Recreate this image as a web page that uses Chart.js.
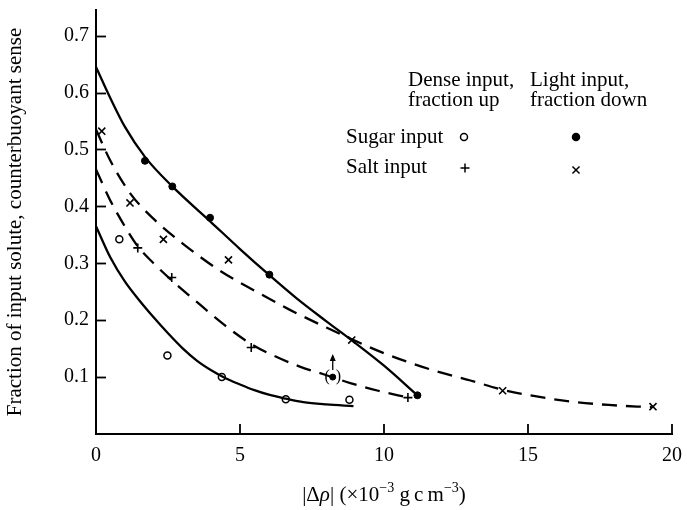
<!DOCTYPE html>
<html><head><meta charset="utf-8">
<script src="https://cdn.jsdelivr.net/npm/chart.js@4/dist/chart.umd.min.js"></script>
<style>html,body{margin:0;padding:0;background:#fff}#wrap{width:687px;height:510px}</style>
</head><body><div id="wrap"><canvas id="c" width="687" height="510"></canvas></div>
<script>
// Observed points
const lightSugarX = [1.70, 2.65, 3.96, 6.02, 11.16];
const lightSugarY = [0.480, 0.435, 0.380, 0.280, 0.068];
const lightSaltX = [0.20, 1.18, 2.34, 4.60, 8.88, 14.12, 19.34];
const lightSaltY = [0.532, 0.406, 0.342, 0.306, 0.165, 0.076, 0.048];
const denseSugarX = [0.81, 2.48, 4.37, 6.59, 8.80];
const denseSugarY = [0.342, 0.138, 0.100, 0.061, 0.060];
const denseSaltX = [1.45, 2.63, 5.39, 10.83];
const denseSaltY = [0.327, 0.275, 0.152, 0.064];
const boundX = [8.22];
const boundY = [0.100];
// Fitted curves
const fitLightSugarX = [0, 0.5, 1, 1.7, 2.65, 4, 5, 6, 7, 8, 9, 10, 11.16];
const fitLightSugarY = [0.645, 0.59, 0.54, 0.487, 0.435, 0.372, 0.325, 0.28, 0.237, 0.198, 0.16, 0.12, 0.068];
const fitLightSaltX = [0, 0.5, 1.2, 2, 3, 4.3, 5.5, 6.7, 8, 8.9, 10, 11.7, 13, 14.1, 15.3, 16.5, 17.8, 19.3];
const fitLightSaltY = [0.535, 0.48, 0.422, 0.378, 0.335, 0.287, 0.252, 0.219, 0.187, 0.166, 0.142, 0.112, 0.094, 0.078, 0.066, 0.057, 0.051, 0.047];
const fitDenseSaltX = [0, 0.5, 1, 1.45, 2, 2.63, 3.5, 4.5, 5.39, 6.2, 7.1, 7.9, 8.8, 9.8, 10.83];
const fitDenseSaltY = [0.465, 0.41, 0.365, 0.33, 0.3, 0.27, 0.232, 0.19, 0.158, 0.137, 0.118, 0.105, 0.09, 0.076, 0.064];
const fitDenseSugarX = [0, 0.5, 1, 1.5, 2, 2.5, 3, 3.5, 4, 4.5, 5, 5.5, 6, 6.6, 7.2, 8, 8.94];
const fitDenseSugarY = [0.365, 0.31, 0.268, 0.235, 0.205, 0.177, 0.151, 0.129, 0.112, 0.098, 0.087, 0.077, 0.069, 0.062, 0.056, 0.052, 0.049];
// Ticks
const xTicks = [0, 5, 10, 15, 20];
const yTicks = [0.1, 0.2, 0.3, 0.4, 0.5, 0.6, 0.7];
const xTickLabels = ['0', '5', '10', '15', '20'];
const yTickLabels = ['0.1', '0.2', '0.3', '0.4', '0.5', '0.6', '0.7'];
const yTitle = 'Fraction of input solute, counterbuoyant sense';
const colHeads = [['Dense input,', 'fraction up'], ['Light input,', 'fraction down']];
const rowHeads = ['Sugar input', 'Salt input'];

const SERIF = '"Liberation Serif", "Times New Roman", serif';
const pts = (xs, ys) => xs.map((x, i) => ({x, y: ys[i]}));

function fitDs(xs, ys, dashed) {
  return {data: pts(xs, ys), showLine: true, borderColor: '#000', borderWidth: 2.3,
    borderDash: dashed ? [15, 9] : [], pointRadius: 0, cubicInterpolationMode: 'monotone', fill: false, clip: false};
}
function ptDs(xs, ys, style, r, fillCol, bw) {
  return {data: pts(xs, ys), showLine: false, pointStyle: style, pointRadius: r,
    pointBackgroundColor: fillCol, pointBorderColor: '#000', pointBorderWidth: bw, clip: false};
}

const extras = {
  id: 'extras',
  afterDraw(chart) {
    const ctx = chart.ctx, xs = chart.scales.x, ys = chart.scales.y, a = chart.chartArea;
    ctx.save();
    ctx.strokeStyle = '#000'; ctx.fillStyle = '#000'; ctx.lineWidth = 1.8;
    yTicks.forEach(v => { const p = Math.round(ys.getPixelForValue(v)) + 0.5;
      ctx.beginPath(); ctx.moveTo(a.left, p); ctx.lineTo(a.left + 10, p); ctx.stroke(); });
    xTicks.slice(1).forEach(v => { const p = Math.round(xs.getPixelForValue(v));
      ctx.beginPath(); ctx.moveTo(p, a.bottom); ctx.lineTo(p, a.bottom - 10); ctx.stroke(); });
    // lower-bound marker: parentheses and arrow
    const bx = xs.getPixelForValue(boundX[0]), by = ys.getPixelForValue(boundY[0]);
    ctx.font = '16px ' + SERIF; ctx.textBaseline = 'middle';
    ctx.textAlign = 'right'; ctx.fillText('(', bx - 3, by);
    ctx.textAlign = 'left'; ctx.fillText(')', bx + 3, by);
    ctx.lineWidth = 1.3;
    ctx.beginPath(); ctx.moveTo(bx, by - 7); ctx.lineTo(bx, by - 21); ctx.stroke();
    ctx.beginPath(); ctx.moveTo(bx, by - 23); ctx.lineTo(bx - 3, by - 16); ctx.lineTo(bx + 3, by - 16); ctx.closePath(); ctx.fill();
    // legend table
    ctx.font = '21px ' + SERIF; ctx.textBaseline = 'alphabetic'; ctx.textAlign = 'left';
    ctx.fillText(colHeads[0][0], 408, 86); ctx.fillText(colHeads[0][1], 408, 106);
    ctx.fillText(colHeads[1][0], 530, 86); ctx.fillText(colHeads[1][1], 530, 106);
    ctx.fillText(rowHeads[0], 346, 143); ctx.fillText(rowHeads[1], 346, 173);
    const H = Chart.helpers;
    ctx.lineWidth = 1.5; ctx.fillStyle = '#fff';
    H.drawPoint(ctx, {pointStyle: 'circle', radius: 3.5, borderWidth: 1.5}, 464, 137);
    ctx.fillStyle = '#000';
    H.drawPoint(ctx, {pointStyle: 'circle', radius: 3.5, borderWidth: 1}, 576, 137);
    H.drawPoint(ctx, {pointStyle: 'cross', radius: 4.5, borderWidth: 1.6}, 465, 168);
    H.drawPoint(ctx, {pointStyle: 'crossRot', radius: 5, borderWidth: 1.6}, 576, 170);
    // x-axis title with italic rho and superscripts
    const base = 501, cx = (a.left + a.right) / 2;
    const f = '21px ' + SERIF, fi = 'italic 21px ' + SERIF, fs = '14px ' + SERIF;
    const parts = [['|\u0394', f, 0], ['\u03c1', fi, 0], ['| (\u00d710', f, 0], ['\u22123', fs, -9],
      [' g\u2009c\u2009m', f, 0], ['\u22123', fs, -9], [')', f, 0]];
    let w = 0; parts.forEach(p => { ctx.font = p[1]; w += ctx.measureText(p[0]).width; });
    let x = cx - w / 2; ctx.fillStyle = '#000'; ctx.textAlign = 'left';
    parts.forEach(p => { ctx.font = p[1]; ctx.fillText(p[0], x, base + p[2]); x += ctx.measureText(p[0]).width; });
    ctx.restore();
  }
};

new Chart(document.getElementById('c'), {
  type: 'scatter',
  data: {datasets: [
    fitDs(fitLightSugarX, fitLightSugarY, false),
    fitDs(fitDenseSugarX, fitDenseSugarY, false),
    fitDs(fitLightSaltX, fitLightSaltY, true),
    fitDs(fitDenseSaltX, fitDenseSaltY, true),
    ptDs(lightSugarX, lightSugarY, 'circle', 3.5, '#000', 1),
    ptDs(denseSugarX, denseSugarY, 'circle', 3.5, '#fff', 1.5),
    ptDs(lightSaltX, lightSaltY, 'crossRot', 5, '#000', 1.6),
    ptDs(denseSaltX, denseSaltY, 'cross', 4.5, '#000', 1.6),
    ptDs(boundX, boundY, 'circle', 3, '#000', 1)
  ]},
  options: {
    responsive: false, animation: false, devicePixelRatio: 1,
    layout: {padding: {left: 0, right: 15, top: 10, bottom: 0}},
    plugins: {legend: {display: false}, tooltip: {enabled: false}},
    scales: {
      x: {type: 'linear', min: 0, max: 20,
        afterBuildTicks: s => { s.ticks = xTicks.map(v => ({value: v})); },
        afterFit: s => { s.height = 76; s.paddingLeft = 0; s.paddingRight = 0; },
        border: {display: true, color: '#000', width: 2},
        grid: {display: true, drawOnChartArea: false, drawTicks: false},
        ticks: {color: '#000', padding: 10, maxRotation: 0, autoSkip: false,
          font: {family: SERIF, size: 20}, callback: (v, i) => xTickLabels[i]},
        title: {display: false}
      },
      y: {type: 'linear', min: 0, max: 0.745,
        afterBuildTicks: s => { s.ticks = yTicks.map(v => ({value: v})); },
        afterFit: s => { s.width = 96; s.paddingTop = 0; s.paddingBottom = 0; },
        border: {display: true, color: '#000', width: 2},
        grid: {display: true, drawOnChartArea: false, drawTicks: false},
        ticks: {color: '#000', padding: 7, autoSkip: false,
          font: {family: SERIF, size: 20}, callback: (v, i) => yTickLabels[i]},
        title: {display: true, text: yTitle, color: '#000', padding: {top: 3, bottom: 0},
          font: {family: SERIF, size: 21, weight: 'normal'}}
      }
    }
  },
  plugins: [extras]
});
</script></body></html>
